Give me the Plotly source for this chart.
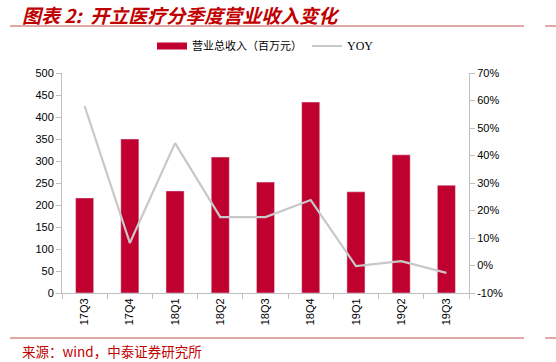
import plotly.graph_objects as go

categories = ["17Q3", "17Q4", "18Q1", "18Q2", "18Q3", "18Q4", "19Q1", "19Q2", "19Q3"]
revenue = [216, 350, 232, 309, 252, 434, 230, 314, 245]
yoy = [58.0, 8.2, 44.5, 17.6, 17.6, 23.8, -0.2, 1.6, -2.7]
left_ticks = [0, 50, 100, 150, 200, 250, 300, 350, 400, 450, 500]
right_ticks = [-10, 0, 10, 20, 30, 40, 50, 60, 70]

BAR = "#C0002F"
GREY = "#C8C8C8"
RED_TXT = "#C00000"
RULE = "#C0504D"

W, H = 556, 362
L, R, T, B = 62, 469, 73, 293
def px(x):
    return (x - L) / (R - L)
def py(y):
    return (B - y) / (B - T)

fig = go.Figure()
fig.add_trace(go.Bar(x=categories, y=revenue, marker_color=BAR, showlegend=False,
                     name="营业总收入（百万元）"))
# legend entry with a wide swatch
fig.add_trace(go.Scatter(x=[None], y=[None], mode="lines", line=dict(color=BAR, width=7),
                         name="营业总收入（百万元）"))
fig.add_trace(go.Scatter(x=categories, y=yoy, mode="lines", line=dict(color=GREY, width=2.2),
                         name="<span style='font-family:Liberation Serif;font-size:12px'>YOY</span>", yaxis="y2"))

fig.update_layout(
    width=W, height=H,
    margin=dict(l=L, r=W - R, t=T, b=H - B, autoexpand=False),
    plot_bgcolor="white", paper_bgcolor="white",
    bargap=0.6,
    font=dict(family="Liberation Sans, Arial, sans-serif", size=11, color="#000"),
    legend=dict(orientation="h", x=0.5, xanchor="center", y=py(46), yanchor="middle",
                font=dict(family="Noto Sans CJK SC", size=11, color="#000"),
                itemwidth=30, tracegroupgap=0, traceorder="normal"),
    xaxis=dict(type="category", showgrid=False, showline=True, linecolor="#BFBFBF",
               ticks="outside", tickson="boundaries", ticklen=5, tickcolor="#BFBFBF",
               tickangle=-90, tickfont=dict(size=11), automargin=False),
    yaxis=dict(range=[0, 500], tickvals=left_ticks, showgrid=False, showline=True,
               linecolor="#BFBFBF", ticks="outside", ticklen=5, tickcolor="#BFBFBF",
               zeroline=False, tickfont=dict(size=11), automargin=False),
    yaxis2=dict(range=[-10, 70], tickvals=right_ticks, ticktext=[f"{v}%" for v in right_ticks],
                overlaying="y", side="right", showgrid=False, showline=True,
                linecolor="#BFBFBF", ticks="outside", ticklen=5, tickcolor="#BFBFBF",
                zeroline=False, tickfont=dict(size=11), automargin=False),
)

fig.add_annotation(text="<b><i>图表 2:  开立医疗分季度营业收入变化</i></b>", xref="paper", yref="paper",
                   x=px(20), y=py(14), xanchor="left", yanchor="middle", showarrow=False,
                   font=dict(family="Noto Sans CJK SC", size=19, color=RED_TXT))
fig.add_annotation(text="来源：wind，中泰证券研究所", xref="paper", yref="paper",
                   x=px(20), y=py(351), xanchor="left", yanchor="middle", showarrow=False,
                   font=dict(family="Noto Sans CJK SC", size=13.5, color=RED_TXT))

for yy in (26, 338):
    fig.add_shape(type="line", xref="paper", yref="paper", x0=px(10), x1=px(524), y0=py(yy), y1=py(yy),
                  line=dict(color=RULE, width=1))
    fig.add_shape(type="line", xref="paper", yref="paper", x0=px(545), x1=px(556), y0=py(yy), y1=py(yy),
                  line=dict(color=RULE, width=1))

fig.write_html("out.html", config={"displayModeBar": False},
               post_script="document.body.style.margin='0';document.body.style.overflow='hidden';")
